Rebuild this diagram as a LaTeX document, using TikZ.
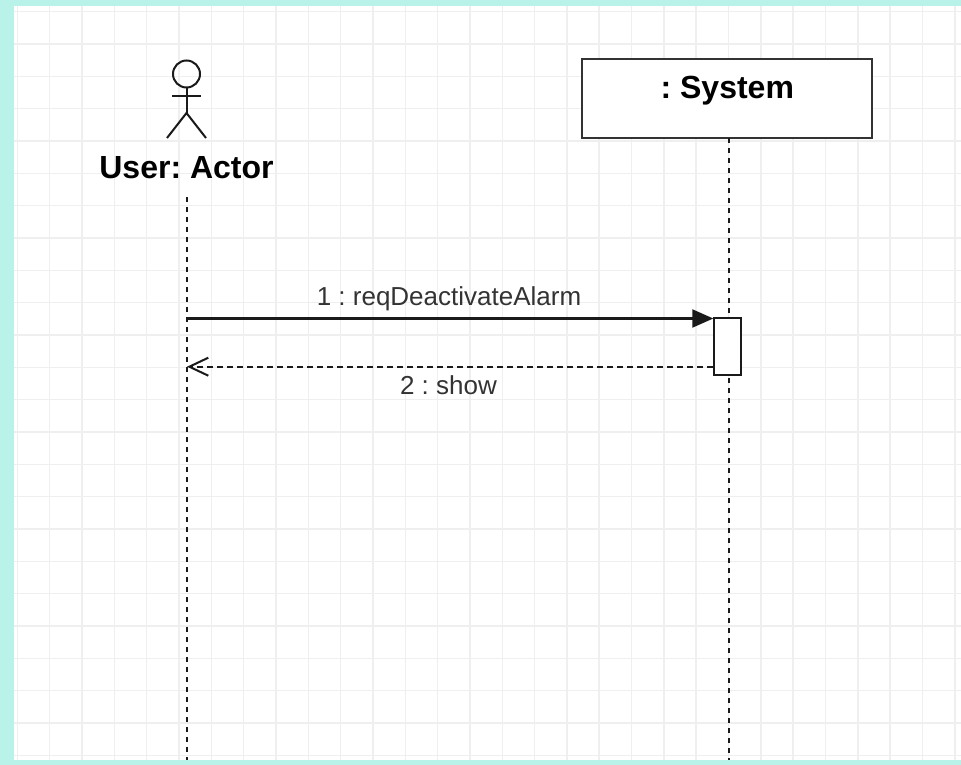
\documentclass[tikz,border=0pt]{standalone}
\usepackage{fontspec}
\setmainfont{Liberation Sans}
\usetikzlibrary{arrows.meta}
\frenchspacing
\definecolor{bordercyan}{HTML}{B9F2E9}
\definecolor{gridgray}{HTML}{EFEFEF}
\definecolor{labelgray}{HTML}{333333}
\definecolor{linedark}{HTML}{1A1A1A}
\tikzset{
  figline/.style={draw=linedark, line width=2pt},
  lifeline/.style={draw=linedark, line width=1.8pt, dash pattern=on 5pt off 5pt},
  objbox/.style={draw=labelgray, fill=white, line width=2.2pt, rectangle, inner sep=0pt},
  titletext/.style={font=\bfseries\fontsize{32}{38}\selectfont, text=black, inner sep=0pt, anchor=base},
  msgtext/.style={font=\fontsize{26}{31}\selectfont, text=labelgray, inner sep=0pt, anchor=base},
  callmsg/.style={draw=linedark, line width=2.2pt, -{Triangle[length=21pt,width=18pt]}},
  replymsg/.style={draw=linedark, line width=1.8pt, dash pattern=on 6pt off 4pt, -{Straight Barb[length=19pt,width=18pt,line width=2pt]}},
}
\begin{document}
\begin{tikzpicture}[x=1pt,y=-1pt]
\useasboundingbox (0,0) rectangle (961,765);
% background
\fill[bordercyan] (0,0) rectangle (961,765);
\fill[white] (14,6) rectangle (961,760);
\begin{scope}
  \clip (14,6) rectangle (961,760);
  \foreach \k in {0,...,29} {
    \draw[gridgray, line width=1.5pt] ({17.3+32.33*\k},6) -- ({17.3+32.33*\k},760);
  }
  \foreach \k in {0,...,23} {
    \draw[gridgray, line width=1.5pt] (14,{11.7+32.33*\k}) -- (961,{11.7+32.33*\k});
  }
\end{scope}
% actor
\coordinate (uhead) at (186.5,74);
\coordinate (uneck) at (186.5,87.5);
\coordinate (uhip) at (186.5,113);
\coordinate (uarml) at (172,96.5);
\coordinate (uarmr) at (201,96.5);
\coordinate (ulegl) at (167,138);
\coordinate (ulegr) at (206,138);
\draw[figline] (uhead) circle (13.5);
\draw[figline] (uneck) -- (uhip);
\draw[figline] (uarml) -- (uarmr);
\draw[figline] (ulegl) -- (uhip) -- (ulegr);
\node[titletext] (user) at (186.5,178.3) {User: Actor};
% user lifeline
\coordinate (utop) at (187,197);
\coordinate (ubot) at (187,760);
\draw[lifeline] (utop) -- (ubot);
% system object
\node[objbox, minimum width=290pt, minimum height=79pt] (sys) at (727.3,98.8) {};
\node[titletext] (systxt) at (727.3,98.3) {: System};
\coordinate (stop) at (729.3,138.3);
\coordinate (sbot) at (729.3,760);
\draw[lifeline] (stop) -- (sbot);
% activation
\node[objbox, draw=linedark, line width=2pt, minimum width=26.4pt, minimum height=57.3pt] (act) at (727.5,346.4) {};
% messages
\coordinate (u1) at (187,318.5);
\coordinate (u2) at (187,366.7);
\draw[callmsg] (u1) -- (act.west |- u1);
\draw[replymsg] (act.west |- u2) -- (u2);
\node[msgtext] (m1) at (449,305.7) {1 : reqDeactivateAlarm};
\node[msgtext] (m2) at (448.5,394) {2 : show};
\end{tikzpicture}
\end{document}
